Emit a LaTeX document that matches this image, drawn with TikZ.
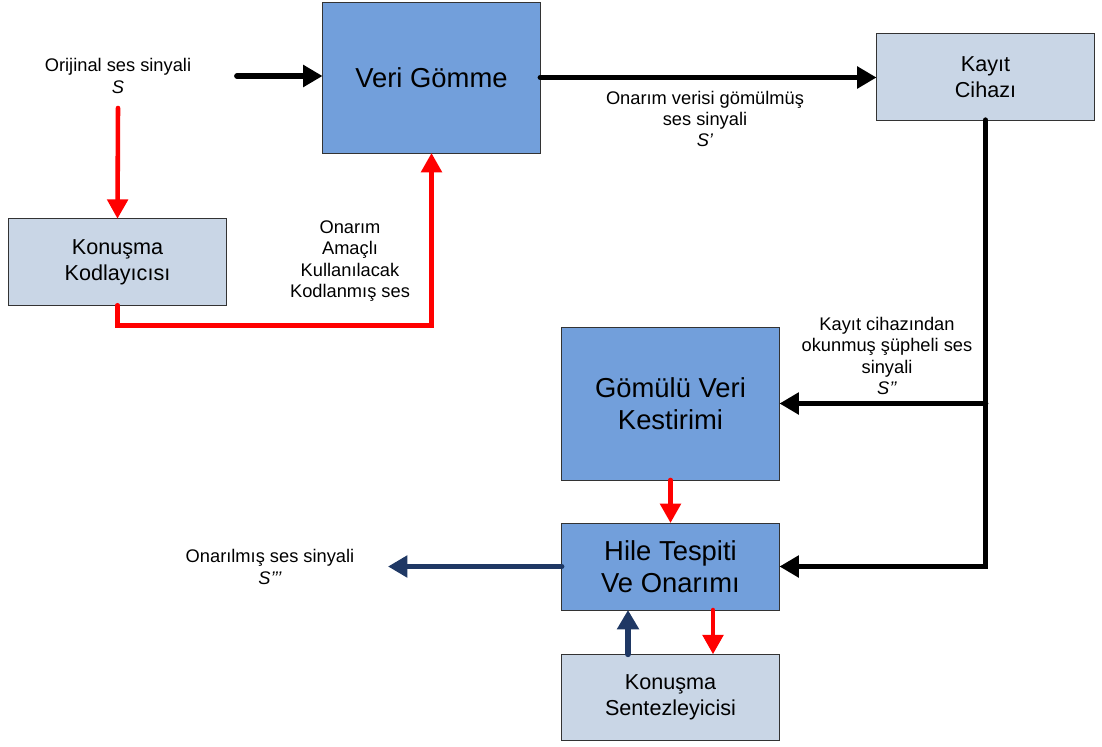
\documentclass[tikz,border=0pt]{standalone}
\usepackage{fontspec}
\setmainfont{Liberation Sans}
\usetikzlibrary{arrows.meta}
\definecolor{gommeblue}{RGB}{114, 159, 219}
\definecolor{cihazgray}{RGB}{201, 214, 230}
\definecolor{onarimnavy}{RGB}{31, 56, 100}
\definecolor{kodred}{RGB}{255, 0, 0}

\begin{document}
\begin{tikzpicture}[x=0.02cm, y=-0.02cm,
    anabox/.style={draw=black!80, fill=gommeblue, inner sep=0pt, outer sep=0pt,
        minimum width=4.36cm, align=center, font=\fontsize{15.6}{18.5}\selectfont},
    yanbox/.style={draw=black!80, fill=cihazgray, inner sep=0pt, outer sep=0pt,
        minimum width=4.36cm, minimum height=1.73cm, align=center,
        font=\fontsize{12.3}{15}\selectfont},
    etiket/.style={align=center, font=\fontsize{10.4}{12.2}\selectfont},
    siyahok/.style={line width=3.3pt, line cap=round, -{Triangle[length=11pt, width=12pt]}},
    kirmiziok/.style={draw=kodred, line width=2.6pt, line cap=round, -{Triangle[length=11pt, width=11.5pt]}},
    laciok/.style={draw=onarimnavy, line width=3.3pt, line cap=round, -{Triangle[length=11pt, width=12pt]}}]
    \useasboundingbox (0,0) rectangle (1102,747);

    % Blocks
    \node[anabox, minimum height=3.02cm] (veri) at (431.5,77.5) {Veri Gömme};
    \node[yanbox] (kayit) at (985.5,77) {Kayıt\\Cihazı};
    \node[yanbox] (kodlayici) at (117.5,262) {Konuşma\\Kodlayıcısı};
    \node[anabox, minimum height=3.06cm] (kestirim) at (670.5,403.5) {Gömülü Veri\\Kestirimi};
    \node[anabox, minimum height=1.74cm] (hile) at (670.5,566.5) {Hile Tespiti\\Ve Onarımı};
    \node[yanbox] (sentez) at (670.5,697.5) {Konuşma\\Sentezleyicisi};

    % Labels
    \node[etiket] (orijinal) at (118,76) {Orijinal ses sinyali\\\textit{S}};
    \node[etiket] (gomulmus) at (705,119) {Onarım verisi gömülmüş\\ses sinyali\\\textit{S’}};
    \node[etiket] (kodlanmis) at (350,261) {Onarım\\Amaçlı\\Kullanılacak\\Kodlanmış ses};
    \node[etiket] (supheli) at (887,356) {Kayıt cihazından\\okunmuş şüpheli ses\\sinyali\\\textit{S’’}};
    \node[etiket] (onarilmis) at (270,567) {Onarılmış ses sinyali\\\textit{S’’’}};

    % Free ends
    \coordinate (sgiris) at (237,76);
    \coordinate (skodla) at (118,108);
    \coordinate (scikis) at (388,567);

    % Black signal path
    \draw[siyahok] (sgiris) -- (sgiris -| veri.west);
    \draw[siyahok] (veri.east) -- (veri.east -| kayit.west);
    \draw[siyahok] (kayit.south) |- (hile.east);
    \draw[siyahok] (kayit.south |- kestirim.east) -- (kestirim.east);

    % Red coded speech
    \draw[kirmiziok] (skodla) -- (kodlayici.north);
    \draw[kirmiziok] (kodlayici.south) -- ++(0,20) -| (veri.south);
    \draw[kirmiziok] (kestirim.south) -- (hile.north);
    \draw[kirmiziok] ([xshift=0.85cm]hile.south) -- ([xshift=0.85cm]sentez.north);

    % Navy repaired signal
    \draw[laciok] ([xshift=-0.85cm]sentez.north) -- ([xshift=-0.85cm]hile.south);
    \draw[laciok] (hile.west) -- (hile.west -| scikis);
\end{tikzpicture}
\end{document}
